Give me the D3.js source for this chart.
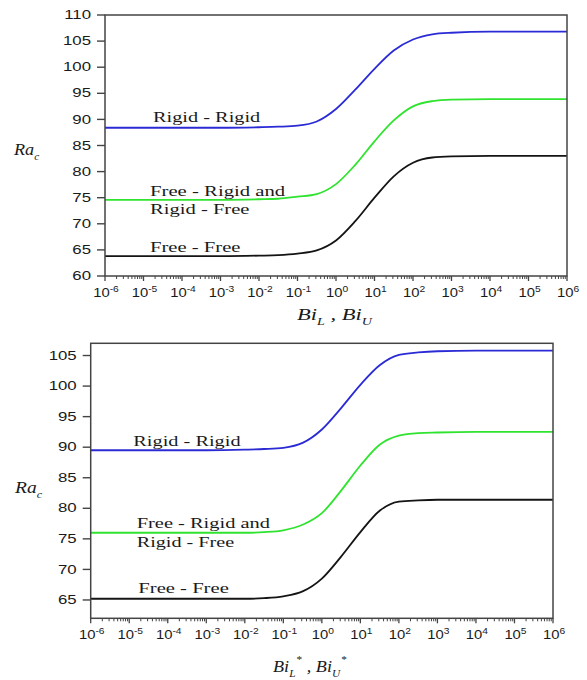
<!DOCTYPE html>
<html>
<head>
<meta charset="utf-8">
<script src="https://cdn.jsdelivr.net/npm/d3@7"></script>
<style>
  body { margin: 0; background: #fff; }
  text { fill: #1a1a1a; }
</style>
</head>
<body>
<svg id="chart" width="587" height="680"></svg>
<script>
// Sample abscissae as powers of ten (Biot number exponents)
const exponents = [-6, -3, -2, -1.5, -1, -0.5, 0, 0.5, 1, 1.5, 2, 2.5, 3, 4, 5, 6];
const xTickExponents = [-6, -5, -4, -3, -2, -1, 0, 1, 2, 3, 4, 5, 6];

// Upper panel: Ra_c against Bi_L, Bi_U
const topYTicks = [60, 65, 70, 75, 80, 85, 90, 95, 100, 105, 110];
const topRigidRigid = [88.4, 88.4, 88.5, 88.6, 88.8, 89.6, 92.0, 95.7, 99.7, 103.2, 105.3, 106.3, 106.6, 106.8, 106.8, 106.8];
const topFreeRigid  = [74.6, 74.6, 74.7, 74.8, 75.2, 75.7, 77.6, 81.3, 85.8, 89.8, 92.5, 93.5, 93.8, 93.9, 93.9, 93.9];
const topFreeFree   = [63.8, 63.8, 63.9, 64.0, 64.3, 64.9, 66.8, 70.5, 75.0, 79.1, 81.7, 82.7, 82.9, 83.0, 83.0, 83.0];

// Lower panel: Ra_c against Bi_L*, Bi_U*
const bottomYTicks = [65, 70, 75, 80, 85, 90, 95, 100, 105];
const botRigidRigid = [89.5, 89.5, 89.6, 89.7, 89.9, 90.7, 92.9, 96.4, 100.2, 103.4, 105.1, 105.5, 105.7, 105.8, 105.8, 105.8];
const botFreeRigid  = [76.0, 76.0, 76.0, 76.1, 76.4, 77.3, 79.2, 82.9, 87.0, 90.4, 91.9, 92.3, 92.4, 92.5, 92.5, 92.5];
const botFreeFree   = [65.2, 65.2, 65.2, 65.3, 65.6, 66.4, 68.5, 72.1, 76.1, 79.6, 81.1, 81.3, 81.4, 81.4, 81.4, 81.4];

const caseLabels = ["Rigid - Rigid", "Free - Rigid and", "Rigid - Free", "Free - Free"];

const SANS = "'Liberation Sans', Arial, sans-serif";
const SERIF = "'Liberation Serif', 'Times New Roman', serif";
const COLORS = { rr: "#2b2bd6", fr: "#2fe32f", ff: "#141414" };

const svg = d3.select("#chart");

// Place a text element and stretch it horizontally to a given width
function fitText(sel, px, py, width, anchor) {
  const w = sel.node().getBBox().width;
  const sx = width / w;
  sel.attr("text-anchor", anchor || "start")
     .attr("transform", `translate(${px},${py}) scale(${sx},1)`);
  return sx;
}

// Horizontal stretch for a font, measured on a probe string
function stretchFor(family, size, probe, width) {
  const t = svg.append("text").attr("font-family", family).attr("font-size", size).text(probe);
  const w = t.node().getBBox().width;
  t.remove();
  return width / w;
}

const yTickSX = stretchFor(SANS, 12, "100", 28.5);
const xTickSX = stretchFor(SANS, 13, "10", 16.5);

function drawPanel(o) {
  const x = d3.scaleLog().domain([1e-6, 1e6]).range([o.x0, o.x1]);
  const y = d3.scaleLinear().domain(o.yDomain).range([o.y1, o.y0]);
  const g = svg.append("g");

  // curves
  const line = d3.line()
    .x(d => x(Math.pow(10, d[0])))
    .y(d => y(d[1]))
    .curve(d3.curveMonotoneX);
  o.series.forEach(s => {
    g.append("path")
      .attr("d", line(exponents.map((e, i) => [e, s.values[i]])))
      .attr("fill", "none")
      .attr("stroke", s.color)
      .attr("stroke-width", 1.8);
  });

  // frame
  g.append("rect")
    .attr("x", o.x0).attr("y", o.y0)
    .attr("width", o.x1 - o.x0).attr("height", o.y1 - o.y0)
    .attr("fill", "none").attr("stroke", "#444").attr("stroke-width", 1.5);

  // y axis ticks and labels
  o.yTicks.forEach(v => {
    g.append("line")
      .attr("x1", o.x0 - 8).attr("x2", o.x0)
      .attr("y1", y(v)).attr("y2", y(v))
      .attr("stroke", "#444").attr("stroke-width", 1.4);
    g.append("text")
      .attr("transform", `translate(${o.x0 - 14},${y(v)}) scale(${yTickSX},1)`)
      .attr("text-anchor", "end")
      .attr("dominant-baseline", "central")
      .attr("font-family", SANS).attr("font-size", 12)
      .text(v);
  });

  // x axis: decades with minor ticks
  xTickExponents.forEach(e => {
    const px = x(Math.pow(10, e));
    g.append("line")
      .attr("x1", px).attr("x2", px)
      .attr("y1", o.y1).attr("y2", o.y1 + 5)
      .attr("stroke", "#444").attr("stroke-width", 1.3);
    const t = g.append("text")
      .attr("transform", `translate(${px + 1},${o.y1 + 21}) scale(${xTickSX},1)`)
      .attr("text-anchor", "middle")
      .attr("font-family", SANS).attr("font-size", 13);
    t.append("tspan").text("10");
    t.append("tspan").attr("dy", -5).attr("font-size", 9).text(e);
    if (e < 6) {
      for (let k = 2; k <= 9; k++) {
        const mx = x(k * Math.pow(10, e));
        g.append("line")
          .attr("x1", mx).attr("x2", mx)
          .attr("y1", o.y1).attr("y2", o.y1 + 3)
          .attr("stroke", "#444").attr("stroke-width", 1);
      }
    }
  });

  // case labels
  o.labels.forEach(l => {
    const t = g.append("text")
      .attr("font-family", SERIF).attr("font-size", 15)
      .text(l.text);
    fitText(t, o.x0 + l.dx, y(l.anchor) + l.dy, l.w);
  });

  // y axis title Ra_c
  const ra = g.append("text")
    .attr("font-family", SERIF).attr("font-size", 16).attr("font-style", "italic");
  ra.append("tspan").text("Ra");
  ra.append("tspan").attr("dy", 5).attr("font-size", 10).text("c");
  fitText(ra, o.raX, o.raY, o.raW);

  // x axis title
  const xt = g.append("text")
    .attr("font-family", SERIF).attr("font-size", 16).attr("font-style", "italic");
  xt.append("tspan").text("Bi");
  xt.append("tspan").attr("dy", 5).attr("font-size", 10).text("L");
  if (o.star) xt.append("tspan").attr("dy", -14).attr("dx", 1).attr("font-size", 10).attr("font-style", "normal").text("*");
  xt.append("tspan").attr("dy", o.star ? 9 : -5).text(" , Bi");
  xt.append("tspan").attr("dy", 5).attr("font-size", 10).text("U");
  if (o.star) xt.append("tspan").attr("dy", -14).attr("dx", 1).attr("font-size", 10).attr("font-style", "normal").text("*");
  fitText(xt, o.xtX, o.xtY, o.xtW);
}

drawPanel({
  x0: 105, x1: 567, y0: 15, y1: 276,
  yDomain: [60, 110], yTicks: topYTicks,
  series: [
    { values: topRigidRigid, color: COLORS.rr },
    { values: topFreeRigid, color: COLORS.fr },
    { values: topFreeFree, color: COLORS.ff }
  ],
  labels: [
    { text: caseLabels[0], anchor: topRigidRigid[0], dx: 48, dy: -6, w: 108 },
    { text: caseLabels[1], anchor: topFreeRigid[0], dx: 45, dy: -4, w: 136 },
    { text: caseLabels[2], anchor: topFreeRigid[0], dx: 45, dy: 14, w: 100 },
    { text: caseLabels[3], anchor: topFreeFree[0], dx: 45, dy: -4.5, w: 91 }
  ],
  raX: 14, raY: 155, raW: 27,
  xtX: 297, xtY: 320, xtW: 76, star: false
});

drawPanel({
  x0: 90.7, x1: 553, y0: 343.3, y1: 618.3,
  yDomain: [62, 107], yTicks: bottomYTicks,
  series: [
    { values: botRigidRigid, color: COLORS.rr },
    { values: botFreeRigid, color: COLORS.fr },
    { values: botFreeFree, color: COLORS.ff }
  ],
  labels: [
    { text: caseLabels[0], anchor: botRigidRigid[0], dx: 42.6, dy: -4.7, w: 108 },
    { text: caseLabels[1], anchor: botFreeRigid[0], dx: 46, dy: -5, w: 134 },
    { text: caseLabels[2], anchor: botFreeRigid[0], dx: 46, dy: 14, w: 98 },
    { text: caseLabels[3], anchor: botFreeFree[0], dx: 47.6, dy: -5.5, w: 91 }
  ],
  raX: 15, raY: 493, raW: 29,
  xtX: 273, xtY: 672, xtW: 74, star: true
});
</script>
</body>
</html>
